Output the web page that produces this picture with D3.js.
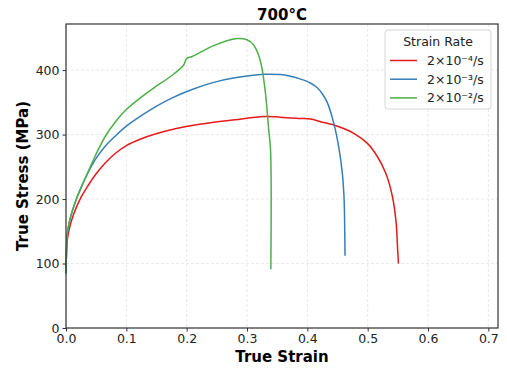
<!DOCTYPE html>
<html>
<head>
<meta charset="utf-8">
<script src="https://cdn.jsdelivr.net/npm/d3@7"></script>
<style>
  body { margin: 0; background: #fff; }
  text { font-family: "DejaVu Sans", sans-serif; }
</style>
</head>
<body>
<div id="chart"></div>
<script>
// data
const seriesNames = ["2×10⁻⁴/s", "2×10⁻³/s", "2×10⁻²/s"];
const colors = ["#e41a1c", "#377eb8", "#4daf4a"];

const strainLow = [0, 0.001, 0.002, 0.005, 0.012, 0.025, 0.036, 0.049, 0.065, 0.082, 0.1, 0.126, 0.148, 0.176, 0.209, 0.245, 0.28, 0.328, 0.355, 0.389, 0.405, 0.422, 0.45, 0.477, 0.5, 0.516, 0.53, 0.541, 0.547, 0.5495, 0.551];
const stressLow = [85, 120, 135, 152, 175, 203, 220, 238, 256, 271, 283, 294, 301, 308, 314, 319, 323, 328, 327, 325, 324, 320, 313, 302, 286, 266, 240, 204, 165, 125, 100];

const strainMid = [0, 0.001, 0.002, 0.005, 0.01, 0.018, 0.027, 0.036, 0.049, 0.065, 0.082, 0.1, 0.126, 0.148, 0.176, 0.209, 0.245, 0.28, 0.328, 0.355, 0.37, 0.389, 0.405, 0.416, 0.425, 0.433, 0.444, 0.452, 0.458, 0.461, 0.462, 0.4625];
const stressMid = [85, 125, 145, 162, 180, 202, 222, 240, 262, 282, 298, 313, 330, 343, 357, 370, 381, 388, 393.5, 393, 391, 386, 380, 373, 363, 350, 317, 281, 240, 198, 150, 112];

const strainHigh = [0, 0.001, 0.002, 0.005, 0.01, 0.018, 0.027, 0.036, 0.049, 0.065, 0.082, 0.1, 0.126, 0.148, 0.176, 0.195, 0.2, 0.209, 0.245, 0.283, 0.3, 0.311, 0.322, 0.33, 0.336, 0.339, 0.3395];
const stressHigh = [85, 125, 145, 162, 180, 202, 222, 241, 268, 297, 320, 339, 359, 374, 392, 408, 418, 421, 438, 449, 447, 439, 415, 369, 307, 276, 91];

const xTicks = [0, 0.1, 0.2, 0.3, 0.4, 0.5, 0.6, 0.7];
const yTicks = [0, 100, 200, 300, 400];

const width = 507, height = 369;
const margin = { top: 24, right: 9, bottom: 41, left: 66 };

const svg = d3.select("#chart").append("svg")
  .attr("width", width)
  .attr("height", height);

const x = d3.scaleLinear().domain([0, 0.716]).range([margin.left, width - margin.right]);
const y = d3.scaleLinear().domain([0, 471.5]).range([height - margin.bottom, margin.top]);

// grid
const grid = svg.append("g").attr("class", "grid");
grid.selectAll(".gx").data(xTicks).enter().append("line")
  .attr("x1", d => x(d)).attr("x2", d => x(d))
  .attr("y1", margin.top).attr("y2", height - margin.bottom)
  .style("stroke", "#e3e3e3").style("stroke-width", 0.8).style("stroke-dasharray", "3,2");
grid.selectAll(".gy").data(yTicks).enter().append("line")
  .attr("x1", margin.left).attr("x2", width - margin.right)
  .attr("y1", d => y(d)).attr("y2", d => y(d))
  .style("stroke", "#e3e3e3").style("stroke-width", 0.8).style("stroke-dasharray", "3,2");

// curves
const series = [
  strainLow.map((s, i) => [s, stressLow[i]]),
  strainMid.map((s, i) => [s, stressMid[i]]),
  strainHigh.map((s, i) => [s, stressHigh[i]])
];

const line = d3.line()
  .x(d => x(d[0]))
  .y(d => y(d[1]))
  .curve(d3.curveCatmullRom.alpha(0.5));

svg.append("g").selectAll("path")
  .data(series)
  .enter().append("path")
  .attr("d", d => line(d))
  .style("fill", "none")
  .style("stroke", (d, i) => colors[i])
  .style("stroke-width", 1.5);

// axes
const xAxis = svg.append("g")
  .attr("transform", `translate(0,${height - margin.bottom})`)
  .call(d3.axisBottom(x).tickValues(xTicks).tickFormat(d3.format(".1f")).tickSizeOuter(0).tickSize(3.5).tickPadding(3));
const yAxis = svg.append("g")
  .attr("transform", `translate(${margin.left},0)`)
  .call(d3.axisLeft(y).tickValues(yTicks).tickFormat(d3.format("d")).tickSizeOuter(0).tickSize(3.5).tickPadding(3));
[xAxis, yAxis].forEach(a => {
  a.selectAll("text").style("font-size", "12.5px").style("fill", "#222");
  a.selectAll("line").style("stroke", "#333");
  a.select(".domain").remove();
});

// frame
svg.append("rect")
  .attr("x", margin.left).attr("y", margin.top)
  .attr("width", width - margin.left - margin.right)
  .attr("height", height - margin.top - margin.bottom)
  .style("fill", "none").style("stroke", "#333").style("stroke-width", 1.2);

// labels
svg.append("text")
  .attr("x", (margin.left + width - margin.right) / 2).attr("y", 20)
  .attr("text-anchor", "middle")
  .style("font-size", "15px").style("font-weight", "bold")
  .text("700°C");
svg.append("text")
  .attr("x", (margin.left + width - margin.right) / 2).attr("y", 362)
  .attr("text-anchor", "middle")
  .style("font-size", "15px").style("font-weight", "bold")
  .text("True Strain");
svg.append("text")
  .attr("transform", `translate(28,${(margin.top + height - margin.bottom) / 2}) rotate(-90)`)
  .attr("text-anchor", "middle")
  .style("font-size", "15px").style("font-weight", "bold")
  .text("True Stress (MPa)");

// legend
const lg = svg.append("g").attr("transform", "translate(385,30)");
lg.append("rect")
  .attr("width", 106).attr("height", 79).attr("rx", 3)
  .style("fill", "#fff").style("fill-opacity", 0.8)
  .style("stroke", "#ccc").style("stroke-width", 0.8);
lg.append("text")
  .attr("x", 53).attr("y", 16)
  .attr("text-anchor", "middle")
  .style("font-size", "12.5px").style("fill", "#222")
  .text("Strain Rate");
const item = lg.selectAll(".item").data(seriesNames).enter().append("g")
  .attr("transform", (d, i) => `translate(0,${30.5 + i * 18.7})`);
item.append("line")
  .attr("x1", 5).attr("x2", 32)
  .style("stroke", (d, i) => colors[i]).style("stroke-width", 1.5);
item.append("text")
  .attr("x", 42).attr("dy", "0.35em")
  .style("font-size", "12.5px").style("fill", "#222")
  .text(d => d);
</script>
</body>
</html>
